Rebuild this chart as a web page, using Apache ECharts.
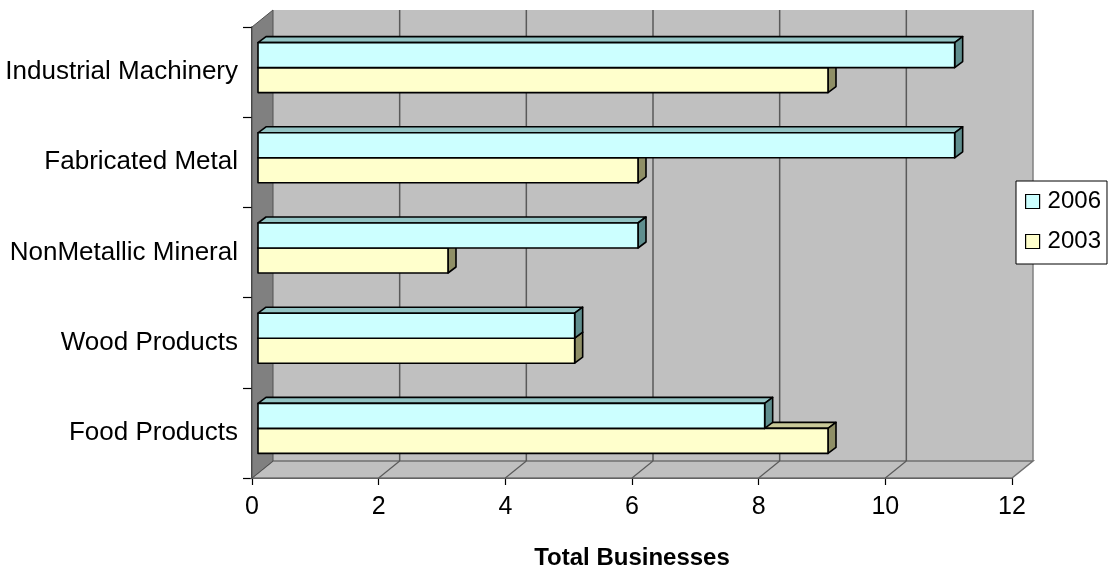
<!DOCTYPE html>
<html>
<head>
<meta charset="utf-8">
<script src="https://cdn.jsdelivr.net/npm/echarts@6/dist/echarts.min.js"></script>
<style>
  html, body { margin: 0; padding: 0; background: #ffffff; }
  #chart { width: 1111px; height: 574px; }
</style>
</head>
<body>
<div id="chart"></div>
<script>
// Manufacturing businesses by industry, 2003 vs 2006
const categories = ['Food Products', 'Wood Products', 'NonMetallic Mineral', 'Fabricated Metal', 'Industrial Machinery'];
const values2006 = [8, 5, 6, 11, 11];
const values2003 = [9, 5, 3, 6, 9];
const xMin = 0, xMax = 12, xStep = 2;
const wallGridValues = [2, 4, 6, 8, 10];

// 3D look: depth of the plot box and of each bar (pixels)
const WALL_DX = 21, WALL_DY = -17;
const BAR_DX = 8, BAR_DY = -6, BAR_SHIFT = 6;
const FONT = '"Liberation Sans", Arial, sans-serif';

const palette = {
  '2006': { front: '#ccffff', top: '#93c4c4', side: '#5f8e8e' },
  '2003': { front: '#ffffcc', top: '#c8c898', side: '#8f8f66' }
};

function wallsRender(params, api) {
  const cs = params.coordSys;
  const L = cs.x, T = cs.y, R = cs.x + cs.width, B = cs.y + cs.height;
  const children = [];
  // back wall
  children.push({ type: 'polygon', shape: { points: [[L + WALL_DX, T + WALL_DY], [R + WALL_DX, T + WALL_DY], [R + WALL_DX, B + WALL_DY], [L + WALL_DX, B + WALL_DY]] },
    style: { fill: '#c0c0c0', stroke: null } });
  children.push({ type: 'line', shape: { x1: R + WALL_DX, y1: T + WALL_DY, x2: R + WALL_DX, y2: B + WALL_DY }, style: { stroke: '#808080', lineWidth: 1.5 } });
  // floor
  children.push({ type: 'polygon', shape: { points: [[L, B], [L + WALL_DX, B + WALL_DY], [R + WALL_DX, B + WALL_DY], [R, B]] },
    style: { fill: '#c0c0c0', stroke: '#707070', lineWidth: 1.5 } });
  // gridlines on back wall and floor
  wallGridValues.forEach(function (v) {
    const x = api.coord([v, 0])[0];
    children.push({ type: 'line', shape: { x1: x + WALL_DX, y1: T + WALL_DY, x2: x + WALL_DX, y2: B + WALL_DY }, style: { stroke: '#5a5a5a', lineWidth: 1.5 } });
    children.push({ type: 'line', shape: { x1: x, y1: B, x2: x + WALL_DX, y2: B + WALL_DY }, style: { stroke: '#5a5a5a', lineWidth: 1.2 } });
  });
  // left side wall
  children.push({ type: 'polygon', shape: { points: [[L, T], [L + WALL_DX, T + WALL_DY], [L + WALL_DX, B + WALL_DY], [L, B]] },
    style: { fill: '#808080', stroke: '#505050', lineWidth: 1 } });
  return { type: 'group', children: children };
}

function barRender(name) {
  const c = palette[name];
  return function (params, api) {
    const val = api.value(0), cat = api.value(1);
    const base = api.coord([0, cat]);
    const end = api.coord([val, cat]);
    const cy = base[1];
    const x0 = base[0] + BAR_SHIFT, x1 = end[0] + BAR_SHIFT;
    const y0 = name === '2006' ? cy - 29.5 : cy - 4.5;
    const y1 = name === '2006' ? cy - 4.5 : cy + 20.5;
    const st = { stroke: '#000000', lineWidth: 1.6, lineJoin: 'round' };
    return {
      type: 'group',
      children: [
        { type: 'polygon', shape: { points: [[x0, y0], [x0 + BAR_DX, y0 + BAR_DY], [x1 + BAR_DX, y0 + BAR_DY], [x1, y0]] },
          style: Object.assign({ fill: c.top }, st) },
        { type: 'polygon', shape: { points: [[x1, y0], [x1 + BAR_DX, y0 + BAR_DY], [x1 + BAR_DX, y1 + BAR_DY], [x1, y1]] },
          style: Object.assign({ fill: c.side }, st) },
        { type: 'rect', shape: { x: x0, y: y0, width: x1 - x0, height: y1 - y0 },
          style: Object.assign({ fill: c.front }, st) }
      ]
    };
  };
}

const chart = echarts.init(document.getElementById('chart'), null, { renderer: 'canvas' });
chart.setOption({
  animation: false,
  backgroundColor: '#ffffff',
  grid: { left: 252, right: 99, top: 27, bottom: 96, containLabel: false, outerBoundsMode: 'none' },
  xAxis: {
    type: 'value', min: xMin, max: xMax, interval: xStep,
    name: 'Total Businesses', nameLocation: 'middle', nameGap: 68,
    nameTextStyle: { fontFamily: FONT, fontSize: 24, fontWeight: 'bold', color: '#000000' },
    axisLine: { show: true, lineStyle: { color: '#000000', width: 1.5 } },
    axisTick: { show: true, length: 7, lineStyle: { color: '#000000', width: 1.2 } },
    axisLabel: { fontFamily: FONT, fontSize: 25, color: '#000000', margin: 17 },
    splitLine: { show: false }
  },
  yAxis: {
    type: 'category', data: categories, boundaryGap: true,
    axisLine: { show: true, onZero: false, lineStyle: { color: '#000000', width: 1.5 } },
    axisTick: { show: true, length: 9, lineStyle: { color: '#000000', width: 1.2 } },
    axisLabel: { fontFamily: FONT, fontSize: 26, color: '#000000', margin: 14 },
    splitLine: { show: false }
  },
  legend: {
    data: ['2006', '2003'], orient: 'vertical', left: 1016, top: 181,
    backgroundColor: '#ffffff', borderColor: '#000000', borderWidth: 1,
    padding: [8, 6, 10, 9], itemWidth: 14, itemHeight: 14, itemGap: 15,
    icon: 'rect',
    itemStyle: { borderColor: '#000000', borderWidth: 1.2 },
    textStyle: { fontFamily: FONT, fontSize: 24, color: '#000000', lineHeight: 25, padding: [0, 0, 0, 3] }
  },
  series: [
    { type: 'custom', name: 'walls', z: 1, silent: true, renderItem: wallsRender, data: [[0, 0]], encode: { x: 0, y: 1 }, clip: false },
    { type: 'custom', name: '2003', z: 2, renderItem: barRender('2003'), itemStyle: { color: palette['2003'].front },
      data: values2003.map(function (v, i) { return [v, i]; }), encode: { x: 0, y: 1 }, clip: false },
    { type: 'custom', name: '2006', z: 3, renderItem: barRender('2006'), itemStyle: { color: palette['2006'].front },
      data: values2006.map(function (v, i) { return [v, i]; }), encode: { x: 0, y: 1 }, clip: false }
  ]
});
</script>
</body>
</html>
